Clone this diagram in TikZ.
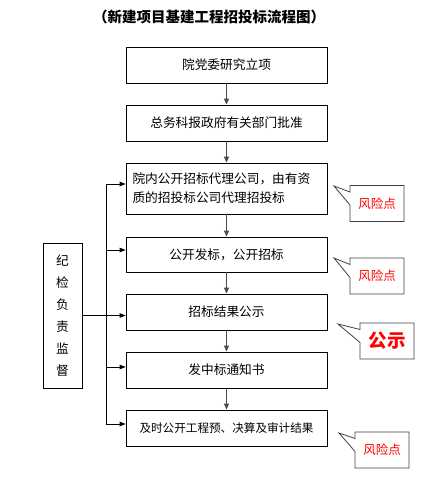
\documentclass[tikz,border=0pt]{standalone}
\usepackage{fontspec}
\setmainfont{Noto Sans CJK SC}
\usetikzlibrary{arrows.meta,shapes.callouts}
\begin{document}
\begin{tikzpicture}[x=1pt,y=-1pt]

\tikzstyle{box1}=[rectangle, draw, line width=0.8pt, minimum width=201pt, minimum height=36pt, inner sep=0pt, font=\fontsize{12.7pt}{19pt}\selectfont]
\tikzstyle{box2}=[rectangle, draw, line width=0.8pt, minimum width=39pt, minimum height=145pt, inner sep=0pt, align=center, font=\fontsize{12.7pt}{22pt}\selectfont]
\tikzstyle{box3}=[rectangle callout, draw=black!75, line width=0.8pt, minimum width=54pt, minimum height=36pt, inner sep=0pt, callout pointer width=13pt, text=red, font=\fontsize{12.5pt}{15pt}\selectfont]
\tikzstyle{arrow}=[-{Triangle[length=6pt,width=5pt]}, draw=black!70, line width=1.2pt]
\tikzstyle{busarrow}=[-{Triangle[length=6pt,width=4.5pt]}, line width=0.8pt]

\useasboundingbox (0,0) rectangle (431,500);

\node (T) at (209,17) {\fontsize{14.5pt}{17pt}\selectfont\bfseries （新建项目基建工程招投标流程图）};

\node (A) [box1] at (226.5,65)  {院党委研究立项};
\node (B) [box1] at (226.5,123) {总务科报政府有关部门批准};
\node (C) [box1, minimum height=51pt, text width=188pt, align=left] at (226.5,188.5) {院内公开招标代理公司，由有资\\质的招投标公司代理招投标};
\node (D) [box1, minimum height=35pt] at (226.5,254.5) {公开发标，公开招标};
\node (E) [box1] at (226.5,312) {招标结果公示};
\node (F) [box1] at (226.5,370) {发中标通知书};
\node (G) [box1, font=\fontsize{11.6pt}{14pt}\selectfont] at (226.5,428) {及时公开工程预、决算及审计结果};

\node (J) [box2] at (62.5,315.5) {纪\\检\\负\\责\\监\\督};

\node (R1) [box3, callout absolute pointer={(334,186)}] at (377,203.5) {风险点};
\node (R2) [box3, callout absolute pointer={(334,258)}] at (377,276) {风险点};
\node (R3) [box3, callout absolute pointer={(338,324)}, font=\fontsize{18.5pt}{20pt}\selectfont\bfseries] at (387,341) {公示};
\node (R4) [box3, callout absolute pointer={(339,433)}] at (382,450) {风险点};

\draw [arrow] (A) -- (B);
\draw [arrow] (B) -- (C);
\draw [arrow] (C) -- (D);
\draw [arrow] (D) -- (E);
\draw [arrow] (E) -- (F);
\draw [arrow] (F) -- (G);

\coordinate (S) at (106,184);
\coordinate (U) at (106,424);
\draw [line width=0.8pt] (S) -- (U);
\draw [busarrow] (S) -- ([yshift=4.5pt]C.west);
\draw [busarrow] ([yshift=4.5pt]D.west -| S) -- ([yshift=4.5pt]D.west);
\draw [busarrow] (J.east) -- (J.east -| E.west);
\draw [busarrow] ([yshift=3pt]F.west -| S) -- ([yshift=3pt]F.west);
\draw [busarrow] (U) -- ([yshift=4pt]G.west);

\end{tikzpicture}
\end{document}
